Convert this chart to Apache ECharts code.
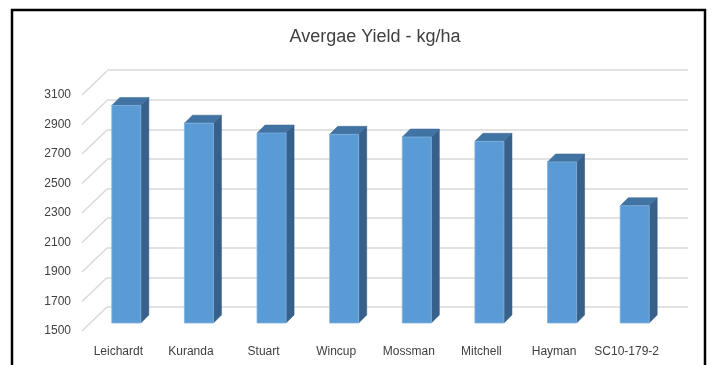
<!DOCTYPE html>
<html>
<head>
<meta charset="utf-8">
<script src="https://cdn.jsdelivr.net/npm/echarts@6/dist/echarts.min.js"></script>
<style>
html,body{margin:0;padding:0;background:#fff;}
#chart{width:712px;height:365px;}
</style>
</head>
<body>
<div id="chart"></div>
<script>
const titleText = 'Avergae Yield - kg/ha';
const categories = ['Leichardt', 'Kuranda', 'Stuart', 'Wincup', 'Mossman', 'Mitchell', 'Hayman', 'SC10-179-2'];
const yieldValues = [2975, 2855, 2788, 2779, 2761, 2732, 2592, 2295];
const yTicks = [1500, 1700, 1900, 2100, 2300, 2500, 2700, 2900, 3100];
const yMin = 1500, yMax = 3100, yStep = 200;

const chart = echarts.init(document.getElementById('chart'), null, {renderer: 'canvas'});

const DEPTH_X = 25, DEPTH_Y = 24;   // wall depth (front plane -> back wall)
const BAR_OFF = 8;                  // bar front offset into depth
const BAR_D = 8;                    // bar depth
const labelFont = "'Liberation Sans', sans-serif";

const option = {
  animation: false,
  backgroundColor: '#fff',
  title: {
    text: titleText,
    left: 370, top: 23, textAlign: 'center',
    textStyle: {fontFamily: labelFont, fontSize: 18, fontWeight: 'normal', color: '#404040'}
  },
  graphic: [{
    type: 'rect', shape: {x: 12, y: 10, width: 693, height: 400},
    style: {fill: 'none', stroke: '#000', lineWidth: 2.5}, silent: true, z: 100
  }],
  grid: [
    {left: 107, right: 24, top: 70, bottom: 58},
    {left: 82, right: 49, top: 95, bottom: 34}
  ],
  xAxis: [
    {gridIndex: 0, type: 'category', data: categories, show: false},
    {gridIndex: 1, type: 'category', data: categories,
     axisLine: {show: false}, axisTick: {show: false},
     axisLabel: {margin: 15, fontSize: 12, color: '#404040', fontFamily: labelFont, interval: 0}}
  ],
  yAxis: [
    {gridIndex: 0, type: 'value', min: yMin, max: yMax, interval: yStep,
     axisLine: {show: false}, axisTick: {show: false}, axisLabel: {show: false},
     splitLine: {lineStyle: {color: '#D9D9D9', width: 1.5}}},
    {gridIndex: 1, type: 'value', min: yMin, max: yMax, interval: yStep,
     axisLine: {show: false}, axisTick: {show: false}, splitLine: {show: false},
     axisLabel: {margin: 11, fontSize: 12, color: '#404040', fontFamily: labelFont,
                 padding: [4, 0, 0, 0], formatter: v => String(v)}}
  ],
  series: [
    {
      type: 'custom', xAxisIndex: 1, yAxisIndex: 1, silent: true,
      data: yTicks.map(t => [0, t]),
      renderItem: function (params, api) {
        const p = api.coord([0, api.value(1)]);
        const xl = params.coordSys.x;
        return {type: 'line', shape: {x1: xl, y1: p[1], x2: xl + DEPTH_X, y2: p[1] - DEPTH_Y},
                style: {stroke: '#D9D9D9', lineWidth: 1.5}};
      }
    },
    {
      type: 'custom', xAxisIndex: 1, yAxisIndex: 1, silent: true,
      data: yieldValues.map((v, i) => [i, v]),
      renderItem: function (params, api) {
        const i = api.value(0), v = api.value(1);
        const top = api.coord([i, v]);
        const base = api.coord([i, yMin]);
        const band = api.size([1, 0])[0];
        const w = band * 0.4;
        const x0 = top[0] - w / 2 + BAR_OFF, x1 = x0 + w;
        const yT = top[1] - BAR_OFF, yB = base[1] - BAR_OFF;
        return {
          type: 'group',
          children: [
            {type: 'polygon', shape: {points: [[x1, yT], [x1 + BAR_D, yT - BAR_D], [x1 + BAR_D, yB - BAR_D], [x1, yB]]},
             style: {fill: '#37618A', stroke: '#2F557A', lineWidth: 0.5}},
            {type: 'polygon', shape: {points: [[x0, yT], [x0 + BAR_D, yT - BAR_D], [x1 + BAR_D, yT - BAR_D], [x1, yT]]},
             style: {fill: '#4274A3', stroke: '#3A6794', lineWidth: 0.5}},
            {type: 'rect', shape: {x: x0, y: yT, width: w, height: yB - yT},
             style: {fill: '#5B9BD5', stroke: '#7FB2E0', lineWidth: 0.8}}
          ]
        };
      }
    }
  ]
};
chart.setOption(option);
</script>
</body>
</html>
